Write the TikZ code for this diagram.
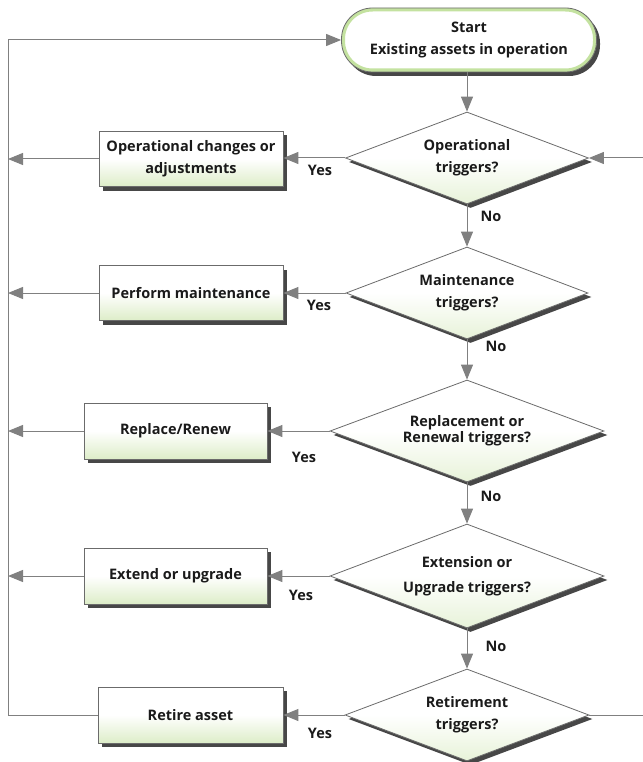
\documentclass[tikz,border=0pt]{standalone}
\usepackage{fontspec}
\setmainfont{Open Sans}
\usetikzlibrary{shapes.geometric,arrows.meta,shadows}

\definecolor{linegray}{HTML}{808080}
\definecolor{edgegray}{HTML}{6B6B6B}
\definecolor{paleleaf}{HTML}{DDEDC8}
\definecolor{glow}{HTML}{C4E2A0}
\definecolor{inkgray}{HTML}{1A1A1A}

\begin{document}
\begin{tikzpicture}[x=1pt,y=-1pt,
  font=\bfseries\fontsize{14.5}{22}\selectfont, text=inkgray,
  softshadow/.style={drop shadow={shadow xshift=3.5pt, shadow yshift=-4pt, fill=black!80, opacity=.9}},
  boxnode/.style={rectangle, draw=edgegray, line width=.8pt,
    top color=white, bottom color=paleleaf, middle color=white,
    minimum width=184pt, minimum height=55pt, align=center, softshadow},
  decision/.style={diamond, shape aspect=2.6, draw=edgegray, line width=.8pt,
    top color=white, bottom color=paleleaf!70!white, middle color=white,
    inner sep=0pt, align=center, softshadow},
  startnode/.style={rectangle, rounded corners=31pt, draw=edgegray, line width=.8pt,
    fill=white, minimum width=255pt, minimum height=64pt, align=center, softshadow,
    path picture={\draw[glow, line width=7pt, rounded corners=31pt]
      (path picture bounding box.south west) rectangle (path picture bounding box.north east);}},
  flow/.style={draw=linegray, line width=1pt, -{Triangle[length=15pt,width=12pt]}},
  lbl/.style={inner sep=0pt}
]
\useasboundingbox (0,0) rectangle (642,762);

% start terminal
\node[startnode] (start) at (469,40) {Start\\Existing assets in operation};

% decisions
\node[decision, minimum width=243pt, minimum height=92pt] (d1) at (467,158) {Operational\\triggers?};
\node[decision, minimum width=242pt, minimum height=92pt] (d2) at (467,293) {Maintenance\\triggers?};
\node[decision, minimum width=274pt, minimum height=102pt] (d3) at (467,431) {Replacement or\\[-6pt]Renewal triggers?};
\node[decision, minimum width=274pt, minimum height=104pt] (d4) at (467,576) {Extension or\\[3pt]Upgrade triggers?};
\node[decision, minimum width=244pt, minimum height=92pt] (d5) at (467,715) {Retirement\\triggers?};

% actions
\node[boxnode] (b1) at (191,159) {Operational changes or\\adjustments};
\node[boxnode] (b2) at (191,293) {Perform maintenance};
\node[boxnode, minimum width=183pt, minimum height=56pt] (b3) at (175.5,431) {Replace/Renew};
\node[boxnode, minimum width=183pt, minimum height=56pt] (b4) at (175.5,576) {Extend or upgrade};
\node[boxnode, minimum width=185pt, minimum height=56pt] (b5) at (190.5,715) {Retire asset};

% loop rails
\coordinate (lx) at (8,40);
\coordinate (rx) at (650,158);

% main spine
\draw[flow] (start.south -| d1.north) -- (d1.north);
\draw[flow] (d1.south) -- (d2.north);
\draw[flow] (d2.south) -- (d3.north);
\draw[flow] (d3.south) -- (d4.north);
\draw[flow] (d4.south) -- (d5.north);

% yes branches
\draw[flow] (d1.west) -- (d1.west -| b1.east);
\draw[flow] (d2.west) -- (d2.west -| b2.east);
\draw[flow] (d3.west) -- (d3.west -| b3.east);
\draw[flow] (d4.west) -- (d4.west -| b4.east);
\draw[flow] (d5.west) -- (d5.west -| b5.east);

% back to the left rail
\draw[flow] (b1.west) -- (b1.west -| lx);
\draw[flow] (b2.west) -- (b2.west -| lx);
\draw[flow] (b3.west) -- (b3.west -| lx);
\draw[flow] (b4.west) -- (b4.west -| lx);
\draw[flow] (b5.west) -- (b5.west -| lx) -- (lx) -- (start.west);

% right rail back into the first decision
\draw[flow] (d5.east) -- (d5.east -| rx) -- (rx) -- (d1.east);

% branch labels
\node[lbl] (y1) at (320,170) {Yes};
\node[lbl] (y2) at (319,305) {Yes};
\node[lbl] (y3) at (304,457) {Yes};
\node[lbl] (y4) at (301,595) {Yes};
\node[lbl] (y5) at (320,733) {Yes};
\node[lbl] (n1) at (491,216) {No};
\node[lbl] (n2) at (496,346) {No};
\node[lbl] (n3) at (491,496) {No};
\node[lbl] (n4) at (496,646) {No};
\end{tikzpicture}
\end{document}
